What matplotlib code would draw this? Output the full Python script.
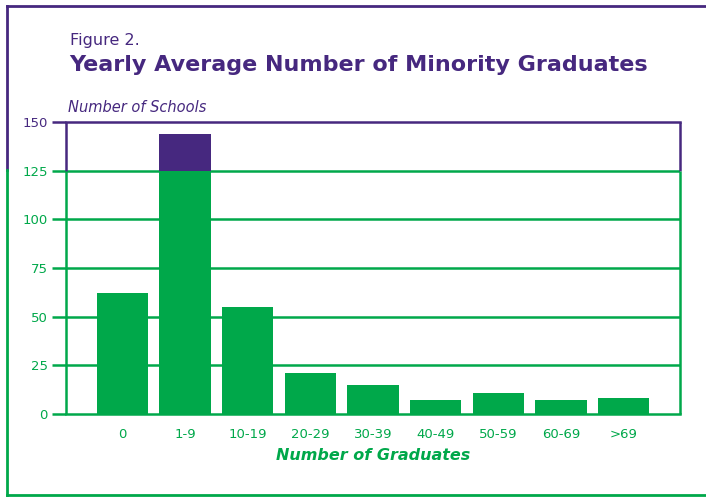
import matplotlib.pyplot as plt
import numpy as np
from matplotlib.lines import Line2D

# data
categories = ["0", "1-9", "10-19", "20-29", "30-39", "40-49", "50-59", "60-69", ">69"]
schools = [62, 144, 55, 21, 15, 7, 11, 7, 8]
yticks = [0, 25, 50, 75, 100, 125, 150]
cap = 125  # above this level the chart turns purple

purple = "#46287F"
green = "#00A84A"

plt.rcParams["font.family"] = "DejaVu Sans"

fig = plt.figure(figsize=(7.06, 4.97), dpi=100)
ax = fig.add_axes([66 / 706, 1 - 414 / 497, 614 / 706, 292 / 497])

x = np.arange(len(categories))
vals = np.array(schools)
low = np.minimum(vals, cap)
high = vals - low
ax.bar(x, low, width=0.82, color=green, zorder=3)
ax.bar(x, high, bottom=cap, width=0.82, color=purple, zorder=3)

ax.set_xlim(-0.9, len(categories) - 0.1)
ax.set_ylim(0, 150)

# grid lines and frame pieces
for v in yticks[1:-1]:
    ax.axhline(v, color=green, lw=1.8, zorder=1)
for spine in ["left", "right", "top"]:
    ax.spines[spine].set_visible(False)
ax.spines["bottom"].set_color(green)
ax.spines["bottom"].set_linewidth(1.8)
ax.axhline(150, color=purple, lw=1.8, clip_on=False)
xl = ax.get_xlim()
ax.vlines(xl, cap, 150, color=purple, lw=1.8, clip_on=False)
ax.vlines(xl, 0, cap, color=green, lw=1.8, clip_on=False)

ax.set_yticks(yticks)
ax.tick_params(axis="y", length=10, width=1.8, pad=3, labelsize=9.5, color=green)
for t, v in zip(ax.yaxis.get_major_ticks(), yticks):
    c = purple if v > cap else green
    t.tick1line.set_markeredgecolor(c)
    t.label1.set_color(c)

ax.set_xticks(x)
ax.set_xticklabels(categories)
ax.tick_params(axis="x", length=0, pad=10, labelsize=9.5, labelcolor=green)

ax.set_xlabel("Number of Graduates", color=green, fontsize=11.5,
              fontweight="bold", fontstyle="italic", labelpad=5)
fig.text(68 / 706, 1 - 108 / 497, "Number of Schools", color=purple,
         fontsize=10.5, fontstyle="italic", va="center")

fig.text(70 / 706, 1 - 40 / 497, "Figure 2.", color=purple, fontsize=11.5, va="center")
fig.text(69 / 706, 1 - 65 / 497, "Yearly Average Number of Minority Graduates",
         color=purple, fontsize=16, fontweight="bold", va="center")

# outer frame
fy = 1 - 170 / 497
fig.add_artist(Line2D([7 / 706, 7 / 706], [1 - 6 / 497, fy], color=purple, lw=2))
fig.add_artist(Line2D([7 / 706, 7 / 706], [fy, 1 - 495 / 497], color=green, lw=2))
fig.add_artist(Line2D([7 / 706, 1], [1 - 6 / 497, 1 - 6 / 497], color=purple, lw=2))
fig.add_artist(Line2D([7 / 706, 1], [1 - 495 / 497, 1 - 495 / 497], color=green, lw=2))

fig.savefig("out.png", dpi=100)
